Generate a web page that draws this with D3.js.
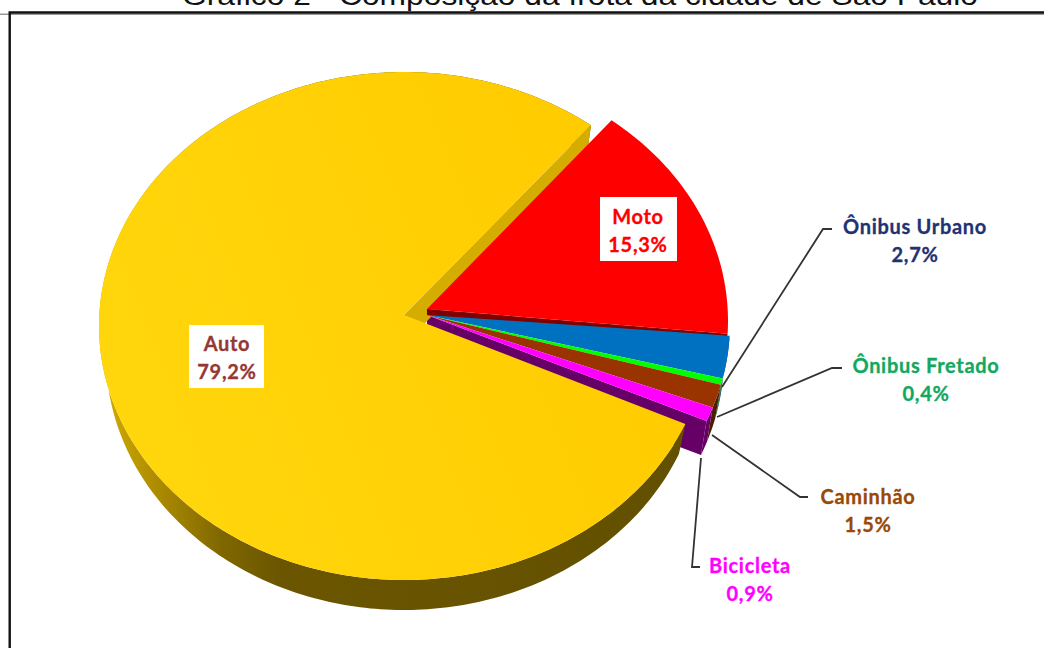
<!DOCTYPE html>
<html lang="pt-BR">
<head>
<meta charset="utf-8">
<title>Composição da frota</title>
<script src="https://cdn.jsdelivr.net/npm/d3@7/dist/d3.min.js"></script>
<style>
  html, body { margin: 0; padding: 0; background: #fff; overflow: hidden; }
  svg { display: block; }
</style>
</head>
<body>
<svg id="chart" width="1044" height="648"></svg>
<script>
// Fleet share by vehicle type, percent
const categories = ["Auto", "Moto", "Ônibus Urbano", "Ônibus Fretado", "Caminhão", "Bicicleta"];
const shares = [79.2, 15.3, 2.7, 0.4, 1.5, 0.9];
const sliceColors = ["#ffcf03", "#ff0000", "#0070c0", "#00ff00", "#993300", "#ff00ff"];
const wallColors = ["url(#autoWall)", "#800000", "#00406e", "#006000", "#4a1c00", "#660066"];
const labelColors = ["#953735", "#ff0000", "#1f3272", "#12a860", "#984807", "#ff00ff"];
const chartTitle = "Gráfico 2 - Composição da frota da cidade de São Paulo";

// Pie rotation, in degrees clockwise from 12 o'clock
const firstSliceAngle = 112.7;

// Tilted discs: an ellipse for the top face, a smaller one for the underside
const discs = {
  auto:  { top: { cx: 404, cy: 326, rx: 305, ry: 254, ax: 404, ay: 315 }, under: { cx: 404, cy: 356, rx: 298, ry: 254, ax: 404, ay: 345 } },
  moto:  { top: { cx: 427, cy: 321, rx: 301, ry: 254, ax: 427, ay: 309 }, under: { cx: 427, cy: 355, rx: 295, ry: 254, ax: 427, ay: 315 } },
  other: { top: { cx: 427, cy: 323, rx: 303, ry: 254, ax: 427, ay: 315 }, under: { cx: 427, cy: 357, rx: 297, ry: 254, ax: 427, ay: 352 } }
};
const discOf = ["auto", "moto", "other", "other", "other", "other"];

// Label placement: text centre, two line mid-heights, optional white plate, leader polyline
const labelLayout = [
  { x: 227, y1: 344, y2: 372, plate: [189, 325, 75, 63] },
  { x: 638, y1: 217, y2: 245, plate: [600, 197, 77, 64] },
  { x: 915, y1: 227, y2: 255, leader: [[722, 387], [823, 229], [832, 229]] },
  { x: 926, y1: 366, y2: 394, leader: [[717, 417], [832, 368], [842, 368]] },
  { x: 868, y1: 497, y2: 525, leader: [[712, 435], [800, 497], [808, 497]] },
  { x: 750, y1: 566, y2: 594, leader: [[701, 458], [692, 567], [700, 567]] }
];

const svg = d3.select("#chart");
const defs = svg.append("defs");

const topGradient = defs.append("linearGradient").attr("id", "autoTop")
  .attr("gradientUnits", "userSpaceOnUse")
  .attr("x1", 100).attr("y1", 450).attr("x2", 600).attr("y2", 250);
topGradient.append("stop").attr("offset", 0).attr("stop-color", "#ffd70d");
topGradient.append("stop").attr("offset", 1).attr("stop-color", "#ffcc00");

const wallGradient = defs.append("linearGradient").attr("id", "autoWall")
  .attr("gradientUnits", "userSpaceOnUse")
  .attr("x1", 100).attr("y1", 0).attr("x2", 700).attr("y2", 0);
[[0, "#d4ad00"], [0.07, "#b89400"], [0.2, "#806800"], [0.3, "#6b5500"], [1, "#625000"]]
  .forEach(([o, c]) => wallGradient.append("stop").attr("offset", o).attr("stop-color", c));

// Page frame and the heading that runs off the top of the page
svg.append("text")
  .attr("x", 580).attr("y", 5)
  .attr("text-anchor", "middle")
  .attr("font-family", "'Liberation Sans', Arial, sans-serif")
  .attr("font-size", 27)
  .attr("textLength", 796).attr("lengthAdjust", "spacingAndGlyphs")
  .attr("fill", "#111")
  .text(chartTitle);

svg.append("rect").attr("x", 0).attr("y", 13.5).attr("width", 1044).attr("height", 1.5).attr("fill", "#999");
svg.append("path").attr("d", "M9.7,648V12.5H1044").attr("fill", "none").attr("stroke", "#111").attr("stroke-width", 2.4);

// Slice angles
const toRad = d => d * Math.PI / 180;
const pie = d3.pie().sort(null).value(d => d)
  .startAngle(toRad(firstSliceAngle))
  .endAngle(toRad(firstSliceAngle) + 2 * Math.PI);
const arcs = pie(shares);

const rimPoint = (e, a) => [e.cx + e.rx * Math.sin(a), e.cy - e.ry * Math.cos(a)];
const line = d3.line();
const sweep = (a0, a1) => {
  const n = Math.max(2, Math.ceil((a1 - a0) / toRad(1)));
  return d3.range(n + 1).map(i => a0 + (a1 - a0) * i / n);
};

// Top face of a slice
const facePath = (e, d) => line([[e.ax, e.ay], ...sweep(d.startAngle, d.endAngle).map(a => rimPoint(e, a))]) + "Z";
// Outer curved wall between the two ellipses
const rimPath = (disc, d) => {
  const angles = sweep(d.startAngle, d.endAngle);
  return line([...angles.map(a => rimPoint(disc.top, a)), ...angles.reverse().map(a => rimPoint(disc.under, a))]) + "Z";
};
// Flat cut wall running from the apex to the rim at a given angle
const cutPath = (disc, a) => line([[disc.top.ax, disc.top.ay], rimPoint(disc.top, a), rimPoint(disc.under, a), [disc.under.ax, disc.under.ay]]) + "Z";

const g = svg.append("g");

// Small slices: curved walls in order, then the cut wall facing Auto
[2, 3, 4, 5].forEach(i => g.append("path").attr("d", rimPath(discs.other, arcs[i])).attr("fill", wallColors[i]));
g.append("path").attr("d", cutPath(discs.other, arcs[5].endAngle)).attr("fill", wallColors[5]);

// Auto: curved wall, cut wall seen through the gap, top face
g.append("path").attr("d", rimPath(discs.auto, arcs[0])).attr("fill", wallColors[0]);
g.append("path").attr("d", cutPath(discs.auto, arcs[0].endAngle)).attr("fill", "#d4ad00");
g.append("path").attr("d", facePath(discs.auto.top, arcs[0])).attr("fill", "url(#autoTop)");

// Moto's cut wall sits under the small slices; Moto's face goes last
g.append("path").attr("d", cutPath(discs.moto, arcs[1].endAngle)).attr("fill", wallColors[1]);
[2, 3, 4, 5].forEach(i => g.append("path").attr("d", facePath(discs[discOf[i]].top, arcs[i])).attr("fill", sliceColors[i]));
g.append("path").attr("d", facePath(discs.moto.top, arcs[1])).attr("fill", sliceColors[1]);

// Leaders and labels
const pct = d3.formatLocale({ decimal: ",", thousands: ".", grouping: [3], currency: ["", ""] }).format(".1f");
const labels = svg.append("g")
  .attr("font-family", "Lato, Carlito, sans-serif")
  .attr("font-weight", 700)
  .attr("font-size", 20)
  .attr("letter-spacing", 0.7)
  .attr("stroke-width", 0.3)
  .attr("text-anchor", "middle");

labelLayout.forEach((l, i) => {
  if (l.leader) {
    svg.append("path").attr("d", line(l.leader)).attr("fill", "none")
      .attr("stroke", "#333").attr("stroke-width", 1.8);
  }
  if (l.plate) {
    labels.append("rect").attr("x", l.plate[0]).attr("y", l.plate[1])
      .attr("width", l.plate[2]).attr("height", l.plate[3]).attr("fill", "#fff");
  }
  labels.append("text").attr("x", l.x).attr("y", l.y1).attr("dy", "0.35em")
    .attr("fill", labelColors[i]).attr("stroke", labelColors[i]).text(categories[i]);
  labels.append("text").attr("x", l.x).attr("y", l.y2).attr("dy", "0.35em")
    .attr("fill", labelColors[i]).attr("stroke", labelColors[i]).text(pct(shares[i]) + "%");
});
</script>
</body>
</html>
